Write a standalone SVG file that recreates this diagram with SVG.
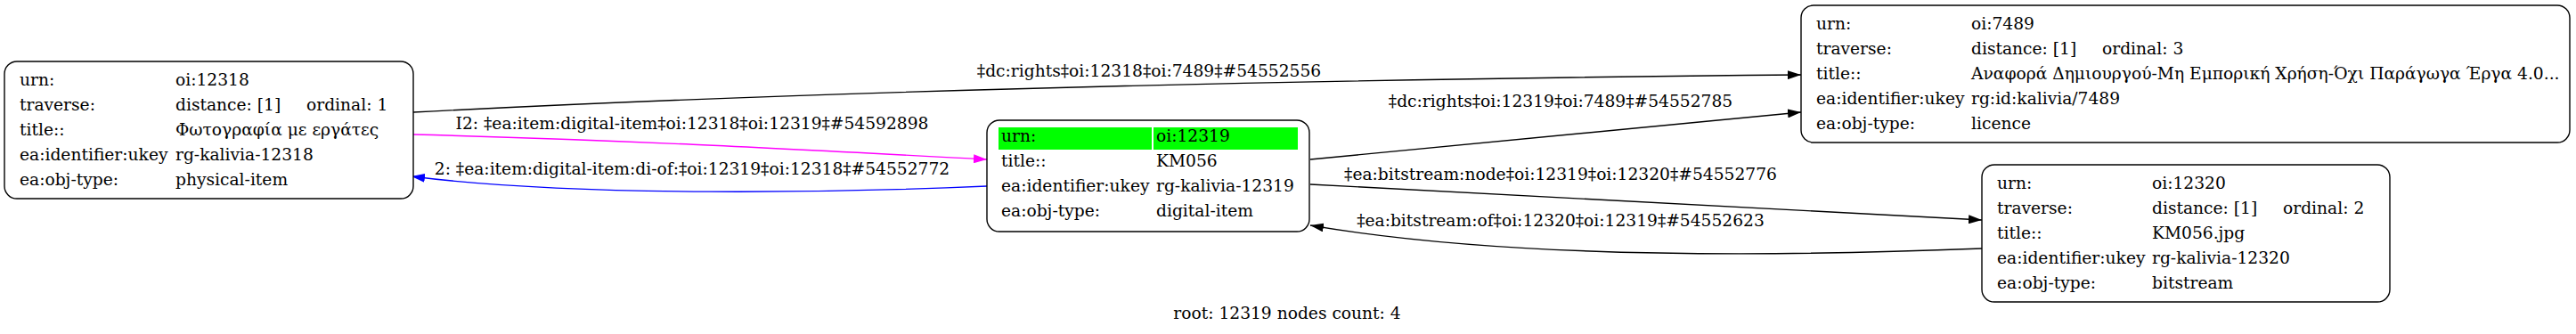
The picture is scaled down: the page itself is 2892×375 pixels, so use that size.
<svg xmlns="http://www.w3.org/2000/svg" width="2892" height="375" viewBox="0 0 2892 375">
<defs>
<style>
text{font-family:"DejaVu Serif","Liberation Serif",serif;font-size:18.67px;fill:#000}
.box{fill:#fff;stroke:#000;stroke-width:1.4}
.e{fill:none;stroke-width:1.4}
.lbl{text-anchor:middle}
.hl{fill:#00ff00}
</style>
<marker id="ak" viewBox="0 0 15 10" refX="15" refY="5" markerWidth="15" markerHeight="10" markerUnits="userSpaceOnUse" orient="auto"><path d="M0,0 L15,5 L0,10 z" fill="#000"/></marker>
<marker id="am" viewBox="0 0 15 10" refX="15" refY="5" markerWidth="15" markerHeight="10" markerUnits="userSpaceOnUse" orient="auto"><path d="M0,0 L15,5 L0,10 z" fill="#ff00ff"/></marker>
<marker id="ab" viewBox="0 0 15 10" refX="15" refY="5" markerWidth="15" markerHeight="10" markerUnits="userSpaceOnUse" orient="auto"><path d="M0,0 L15,5 L0,10 z" fill="#0000ff"/></marker>
</defs>
<rect width="2892" height="375" fill="#fff"/>
<g id="connectors">
<path class="e" stroke="#000" d="M464,126 C1000,98 1600,88 2022,84" marker-end="url(#ak)"/>
<text class="lbl" x="1290" y="86">‡dc:rights‡oi:12318‡oi:7489‡#54552556</text>
<path class="e" stroke="#ff00ff" d="M464,151 C700,157 900,168 1108,179" marker-end="url(#am)"/>
<text class="lbl" x="777" y="145">I2: ‡ea:item:digital-item‡oi:12318‡oi:12319‡#54592898</text>
<path class="e" stroke="#0000ff" d="M1108,209 C950,216 650,222 462,198" marker-end="url(#ab)"/>
<text class="lbl" x="777" y="196">2: ‡ea:item:digital-item:di-of:‡oi:12319‡oi:12318‡#54552772</text>
<path class="e" stroke="#000" d="M1471,179 L2022,126" marker-end="url(#ak)"/>
<text class="lbl" x="1752" y="120">‡dc:rights‡oi:12319‡oi:7489‡#54552785</text>
<path class="e" stroke="#000" d="M1471,207 L2225,247" marker-end="url(#ak)"/>
<text class="lbl" x="1752" y="202">‡ea:bitstream:node‡oi:12319‡oi:12320‡#54552776</text>
<path class="e" stroke="#000" d="M2225,279 C2000,288 1700,292 1471,253" marker-end="url(#ak)"/>
<text class="lbl" x="1752" y="254">‡ea:bitstream:of‡oi:12320‡oi:12319‡#54552623</text>
</g>
<g id="n12318">
<rect class="box" x="5" y="69" width="459" height="154" rx="14"/>
<text x="22" y="96">urn:</text><text x="197" y="96">oi:12318</text>
<text x="22" y="124">traverse:</text><text x="197" y="124">distance: [1]</text><text x="344" y="124">ordinal: 1</text>
<text x="22" y="152">title::</text><text x="197" y="152">Φωτογραφία με εργάτες</text>
<text x="22" y="180">ea:identifier:ukey</text><text x="197" y="180">rg-kalivia-12318</text>
<text x="22" y="208">ea:obj-type:</text><text x="197" y="208">physical-item</text>
</g>
<g id="n12319">
<rect class="box" x="1108" y="135" width="362" height="125" rx="14"/>
<rect class="hl" x="1121" y="143" width="172" height="25"/>
<rect class="hl" x="1295" y="143" width="162" height="25"/>
<text x="1124" y="159">urn:</text><text x="1298" y="159">oi:12319</text>
<text x="1124" y="187">title::</text><text x="1298" y="187">KM056</text>
<text x="1124" y="215">ea:identifier:ukey</text><text x="1298" y="215">rg-kalivia-12319</text>
<text x="1124" y="243">ea:obj-type:</text><text x="1298" y="243">digital-item</text>
</g>
<g id="n7489">
<rect class="box" x="2022" y="6" width="863" height="154" rx="14"/>
<text x="2039" y="33">urn:</text><text x="2213" y="33">oi:7489</text>
<text x="2039" y="61">traverse:</text><text x="2213" y="61">distance: [1]</text><text x="2360" y="61">ordinal: 3</text>
<text x="2039" y="89">title::</text><text x="2213" y="89">Αναφορά Δημιουργού-Μη Εμπορική Χρήση-Όχι Παράγωγα Έργα 4.0...</text>
<text x="2039" y="117">ea:identifier:ukey</text><text x="2213" y="117">rg:id:kalivia/7489</text>
<text x="2039" y="145">ea:obj-type:</text><text x="2213" y="145">licence</text>
</g>
<g id="n12320">
<rect class="box" x="2225" y="185" width="458" height="154" rx="14"/>
<text x="2242" y="212">urn:</text><text x="2416" y="212">oi:12320</text>
<text x="2242" y="240">traverse:</text><text x="2416" y="240">distance: [1]</text><text x="2563" y="240">ordinal: 2</text>
<text x="2242" y="268">title::</text><text x="2416" y="268">KM056.jpg</text>
<text x="2242" y="296">ea:identifier:ukey</text><text x="2416" y="296">rg-kalivia-12320</text>
<text x="2242" y="324">ea:obj-type:</text><text x="2416" y="324">bitstream</text>
</g>
<text class="lbl" x="1445" y="358">root: 12319 nodes count: 4</text>
</svg>
